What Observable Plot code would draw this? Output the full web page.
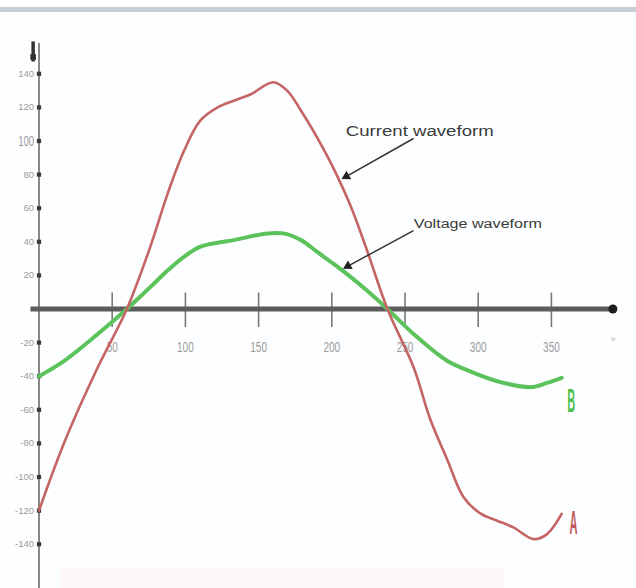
<!DOCTYPE html>
<html>
<head>
<meta charset="utf-8">
<script src="https://cdn.jsdelivr.net/npm/d3@7"></script>
<script src="https://cdn.jsdelivr.net/npm/@observablehq/plot@0.6"></script>
<style>
  html, body { margin: 0; padding: 0; background: #fff; }
  #wrap { position: relative; width: 636px; height: 588px; overflow: hidden; background: #fdfeff; }
  #band { position: absolute; left: 0; top: 7px; width: 636px; height: 5px; background: #c6cdd5; }
  #topwhite { position: absolute; left: 0; top: 0; width: 636px; height: 7px; background: #fff; }
  #foot { position: absolute; left: 60px; top: 567px; width: 445px; height: 21px; background: #fef9f8; }
  #chart { position: absolute; left: 0; top: 0; }
</style>
</head>
<body>
<div id="wrap">
  <div id="topwhite"></div>
  <div id="band"></div>
  <div id="foot"></div>
  <div id="chart"></div>
</div>
<script>
// Angle (degrees) and waveform values
const currentAngle = [0, 17, 40, 60, 76, 88, 99, 110, 122, 133, 145, 160, 169.5, 179, 190, 201, 213, 224, 238, 256, 267, 279, 290, 302, 313, 324, 338, 347, 357];
const currentValue = [-120, -80, -35, 0, 37, 69, 94, 112, 120, 124, 128, 135, 130, 118, 102, 84, 61, 35, 0, -35, -65, -90, -112, -122, -126, -130, -137, -134, -122];

const voltageAngle = [0, 17, 40, 60, 76, 88, 99, 110, 133, 156, 167, 179, 190, 201, 213, 224, 238, 256, 279, 297, 313, 336, 347, 357];
const voltageValue = [-40, -31, -15, 0, 13, 23, 31, 37, 41, 45, 45, 41, 34, 27, 19, 11, 0, -15, -31, -38, -43, -46.5, -44, -41];

const xTicks = [50, 100, 150, 200, 250, 300, 350];
const xTickLabels = ["50", "100", "150", "200", "250", "300", "350"];
const yTicks = [140, 120, 100, 80, 60, 40, 20, -20, -40, -60, -80, -100, -120, -140];
const yTickLabels = ["140", "120", "100", "80", "60", "40", "20", "-20", "-40", "-60", "-80", "-100", "-120", "-140"];

// Annotation anchors (data coordinates)
const noteText = ["Current waveform", "Voltage waveform"];
const noteX = [209.5, 256];
const noteY = [102.7, 48.5];
const arrowFromX = [255.8, 255.8];
const arrowFromY = [101.5, 46.7];
const arrowToX = [210, 211];
const arrowToY = [79, 25.5];
const arrowRotate = [240.7, 241.5];

const curveLabels = ["A", "B"];
const curveLabelX = [365, 363.5];
const curveLabelY = [-128, -55];
const curveLabelColor = ["#c05a5a", "#4fbf4f"];

const RED = "#c46464";
const GREEN = "#5cc25c";

const current = currentAngle.map((a, i) => ({a, v: currentValue[i]}));
const voltage = voltageAngle.map((a, i) => ({a, v: voltageValue[i]}));
const xt = xTicks.map((d, i) => ({d, t: xTickLabels[i]}));
const yt = yTicks.map((d, i) => ({d, t: yTickLabels[i]}));
const notes = noteText.map((t, i) => ({t, x: noteX[i], y: noteY[i], x1: arrowFromX[i], y1: arrowFromY[i], x2: arrowToX[i], y2: arrowToY[i], r: arrowRotate[i]}));
const labs = curveLabels.map((t, i) => ({t, x: curveLabelX[i], y: curveLabelY[i], c: curveLabelColor[i]}));

const plot = Plot.plot({
  width: 636,
  height: 588,
  marginLeft: 38.5,
  marginRight: 23.6,
  marginTop: 39.7,
  marginBottom: 10.7,
  x: {domain: [0, 392], axis: null},
  y: {domain: [-160, 160], axis: null},
  style: {background: "transparent", fontFamily: "'Liberation Sans', Arial, sans-serif"},
  marks: [
    // y axis line
    Plot.ruleX([0], {y1: -172, y2: 158, stroke: "#6a6a6a", strokeWidth: 1.6}),
    // x tick marks
    Plot.ruleX(xt, {x: "d", y1: 9.5, y2: -11, stroke: "#7a7a7a", strokeWidth: 1.6}),
    // x axis thick line
    Plot.ruleY([0], {x1: -5.5, x2: 392, stroke: "#5c5c5c", strokeWidth: 5}),
    Plot.dot([0], {x: 392, y: 0, r: 4.5, fill: "#1e1e1e"}),
    Plot.text(["»"], {x: 392, y: 0, dy: 30, fontSize: 9, fill: "#aaa"}),
    // y axis top mark
    Plot.dot([0], {x: -4, y: 150, r: 3.2, fill: "#333", symbol: "square"}),
    Plot.ruleX([-4], {y1: 147, y2: 159, stroke: "#333", strokeWidth: 3.5}),
    // y tick dots
    Plot.dot(yt, {x: 0, y: "d", r: 2.4, fill: "#3a3a3a", symbol: "square"}),
    Plot.text(yt, {x: 0, y: "d", text: "t", dx: -5, textAnchor: "end", fontSize: 9.5, fill: "#9a9a9a"}),
    Plot.text(xt, {x: "d", y: 0, text: "t", dy: 38, fontSize: 10, fill: "#9a9a9a"}),
    // waveforms
    Plot.line(voltage, {x: "a", y: "v", stroke: GREEN, strokeWidth: 4, curve: "catmull-rom", strokeLinecap: "round"}),
    Plot.line(current, {x: "a", y: "v", stroke: RED, strokeWidth: 2.6, curve: "catmull-rom", strokeLinecap: "round"}),
    // annotations
    Plot.link(notes, {x1: "x1", y1: "y1", x2: "x2", y2: "y2", stroke: "#333", strokeWidth: 1.5}),
    Plot.dot(notes, {x: "x2", y: "y2", symbol: "triangle", r: 3.6, fill: "#222", rotate: "r"}),
    Plot.text(notes, {x: "x", y: "y", text: "t", textAnchor: "start", fontSize: 14, fill: "#3a3a3a", lineAnchor: "bottom"}),
    // curve letters
    Plot.text(labs, {x: "x", y: "y", text: "t", fill: "c", fontSize: 17, fontWeight: "bold"})
  ]
});
document.getElementById("chart").appendChild(plot);

// text fine-tuning: stretch letters and fit annotation widths
const svg = d3.select(plot);
function stretch(node, sx, sy) {
  const bb = node.getBBox();
  const cx = bb.x + bb.width / 2, cy = bb.y + bb.height / 2;
  const t = node.getAttribute("transform") || "";
  node.setAttribute("transform", `${t} translate(${cx},${cy}) scale(${sx},${sy}) translate(${-cx},${-cy})`);
}
svg.selectAll("text").each(function() {
  const s = this.textContent;
  if (s === "A" || s === "B") stretch(this, 0.65, 1.9);
  if (s === "Current waveform") { this.setAttribute("textLength", 148); this.setAttribute("lengthAdjust", "spacingAndGlyphs"); }
  if (s === "Voltage waveform") { this.setAttribute("textLength", 128); this.setAttribute("lengthAdjust", "spacingAndGlyphs"); this.setAttribute("font-size", 12.5); }
  if (xTickLabels.includes(s) && this.getAttribute("text-anchor") !== "end") stretch(this, 1, 1.5);
});
</script>
</body>
</html>
